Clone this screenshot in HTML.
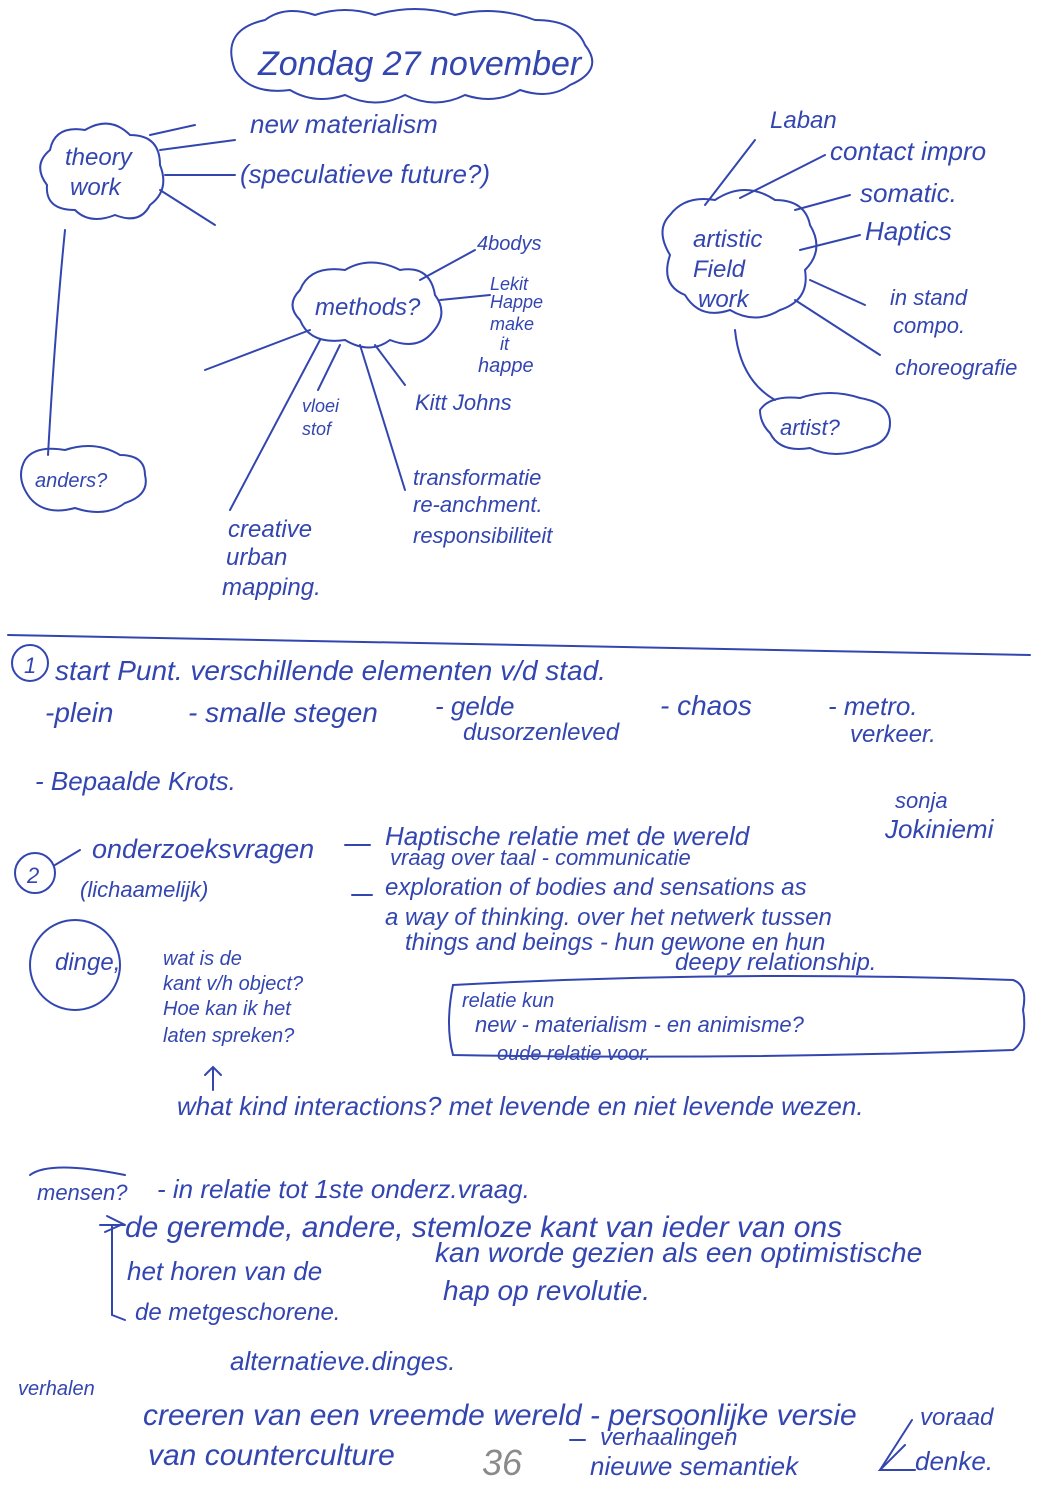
<!DOCTYPE html>
<html><head><meta charset="utf-8"><style>
html,body{margin:0;padding:0;background:#fff}
svg{display:block}
text{font-family:"Liberation Sans",sans-serif;font-style:italic;fill:#3346b0}
</style></head><body>
<svg width="1056" height="1492" viewBox="0 0 1056 1492" xmlns="http://www.w3.org/2000/svg">
<rect width="1056" height="1492" fill="#fff"/>
<g fill="none" stroke="#3346b0" stroke-width="2" stroke-linecap="round">
<!-- title cloud -->
<path d="M235,70 q-15,-40 30,-50 q20,-15 50,-5 q30,-10 60,0 q40,-12 80,0 q40,-10 80,5 q40,0 50,25 q20,25 -15,40 q-20,15 -50,5 q-25,15 -55,5 q-30,15 -60,0 q-30,15 -60,0 q-30,10 -55,-5 q-40,5 -55,-20 z"/>
<!-- theory work cloud -->
<path d="M50,150 q5,-25 35,-20 q25,-15 45,5 q30,0 30,30 q10,25 -10,40 q-10,20 -35,10 q-25,10 -40,-5 q-30,0 -28,-25 q-15,-20 3,-35 z"/>
<line x1="160" y1="150" x2="235" y2="140"/>
<line x1="165" y1="175" x2="235" y2="175"/>
<line x1="160" y1="190" x2="215" y2="225"/>
<line x1="150" y1="135" x2="195" y2="125"/>
<path d="M65,230 Q55,330 48,455"/>
<!-- anders cloud -->
<path d="M25,460 q10,-15 40,-10 q30,-10 55,5 q25,0 25,20 q5,20 -20,28 q-20,15 -50,5 q-30,8 -45,-10 q-15,-20 -5,-38 z"/>
<!-- methods cloud -->
<path d="M300,290 q10,-25 45,-20 q25,-15 55,0 q30,-5 35,25 q15,20 -5,40 q-15,15 -40,5 q-20,15 -45,0 q-35,5 -45,-20 q-15,-15 0,-30 z"/>
<line x1="420" y1="280" x2="475" y2="250"/>
<line x1="440" y1="300" x2="490" y2="295"/>
<line x1="310" y1="330" x2="205" y2="370"/>
<line x1="320" y1="340" x2="230" y2="510"/>
<line x1="340" y1="345" x2="318" y2="390"/>
<line x1="360" y1="345" x2="405" y2="490"/>
<line x1="375" y1="345" x2="405" y2="385"/>
<!-- artistic field work cloud -->
<path d="M670,215 q15,-20 45,-15 q30,-20 60,0 q30,0 35,25 q15,25 -5,45 q5,30 -25,40 q-25,15 -50,0 q-30,10 -45,-15 q-25,-10 -15,-40 q-15,-25 0,-40 z"/>
<line x1="705" y1="205" x2="755" y2="140"/>
<line x1="740" y1="198" x2="825" y2="155"/>
<line x1="795" y1="210" x2="850" y2="195"/>
<line x1="800" y1="250" x2="860" y2="235"/>
<line x1="810" y1="280" x2="865" y2="305"/>
<line x1="795" y1="300" x2="880" y2="355"/>
<path d="M735,330 Q740,380 775,400"/>
<path d="M760,410 q10,-15 40,-12 q30,-10 60,0 q30,5 30,25 q0,20 -25,25 q-30,12 -55,0 q-30,5 -40,-15 q-10,-10 -10,-23 z"/>
<!-- separator -->
<path d="M8,635 Q500,645 1030,655"/>
<circle cx="30" cy="663" r="18"/>
<circle cx="35" cy="873" r="20"/>
<line x1="55" y1="865" x2="80" y2="850"/>
<line x1="345" y1="845" x2="370" y2="845"/>
<line x1="352" y1="895" x2="372" y2="895"/>
<circle cx="75" cy="965" r="45"/>
<path d="M453,985 q280,-15 560,-5 q15,5 10,30 q5,30 -10,40 q-280,10 -560,5 q-8,-30 0,-70 z"/>
<line x1="213" y1="1090" x2="213" y2="1068"/>
<path d="M205,1075 l8,-8 l8,8"/>
<path d="M30,1175 q20,-15 95,0"/>
<path d="M105,1232 l18,-8 l-16,-8"/>
<path d="M112,1225 L112,1315 L125,1320"/>
<line x1="100" y1="1225" x2="125" y2="1225"/>
<line x1="570" y1="1440" x2="585" y2="1440"/>
<path d="M905,1445 L880,1470 L915,1470"/>
<line x1="880" y1="1470" x2="912" y2="1420"/>
</g>
<g font-size="26">
<text x="258" y="75" font-size="34">Zondag 27 november</text>
<text x="250" y="133">new materialism</text>
<text x="240" y="183">(speculatieve future?)</text>
<text x="65" y="165" font-size="24">theory</text>
<text x="70" y="195" font-size="24">work</text>
<text x="35" y="487" font-size="20">anders?</text>
<text x="315" y="315" font-size="24">methods?</text>
<text x="477" y="250" font-size="20">4bodys</text>
<text x="490" y="290" font-size="18">Lekit</text>
<text x="490" y="308" font-size="18">Happe</text>
<text x="490" y="330" font-size="18">make</text>
<text x="500" y="350" font-size="18">it</text>
<text x="478" y="372" font-size="20">happe</text>
<text x="302" y="412" font-size="18">vloei</text>
<text x="302" y="435" font-size="18">stof</text>
<text x="415" y="410" font-size="22">Kitt Johns</text>
<text x="413" y="485" font-size="22">transformatie</text>
<text x="413" y="512" font-size="22">re-anchment.</text>
<text x="413" y="543" font-size="22">responsibiliteit</text>
<text x="228" y="537" font-size="24">creative</text>
<text x="226" y="565" font-size="24">urban</text>
<text x="222" y="595" font-size="24">mapping.</text>
<text x="770" y="128" font-size="24">Laban</text>
<text x="830" y="160" font-size="26">contact impro</text>
<text x="860" y="202" font-size="26">somatic.</text>
<text x="865" y="240" font-size="26">Haptics</text>
<text x="693" y="247" font-size="24">artistic</text>
<text x="693" y="277" font-size="24">Field</text>
<text x="698" y="307" font-size="24">work</text>
<text x="890" y="305" font-size="22">in stand</text>
<text x="893" y="333" font-size="22">compo.</text>
<text x="895" y="375" font-size="22">choreografie</text>
<text x="780" y="435" font-size="22">artist?</text>
<text x="24" y="673" font-size="22">1</text>
<text x="55" y="680" font-size="28">start Punt. verschillende elementen v/d stad.</text>
<text x="45" y="722" font-size="28">-plein</text>
<text x="188" y="722" font-size="28">- smalle stegen</text>
<text x="435" y="715" font-size="26">- gelde</text>
<text x="463" y="740" font-size="24">dusorzenleved</text>
<text x="660" y="715" font-size="28">- chaos</text>
<text x="828" y="715" font-size="26">- metro.</text>
<text x="850" y="742" font-size="24">verkeer.</text>
<text x="35" y="790" font-size="26">- Bepaalde Krots.</text>
<text x="895" y="808" font-size="22">sonja</text>
<text x="885" y="838" font-size="26">Jokiniemi</text>
<text x="27" y="883" font-size="22">2</text>
<text x="92" y="858" font-size="27">onderzoeksvragen</text>
<text x="80" y="897" font-size="22">(lichaamelijk)</text>
<text x="385" y="845" font-size="26">Haptische relatie met de wereld</text>
<text x="390" y="865" font-size="22">vraag over taal - communicatie</text>
<text x="385" y="895" font-size="24">exploration of bodies and sensations as</text>
<text x="385" y="925" font-size="24">a way of thinking. over het netwerk tussen</text>
<text x="405" y="950" font-size="24">things and beings - hun gewone en hun</text>
<text x="675" y="970" font-size="24">deepy relationship.</text>
<text x="55" y="970" font-size="24">dinge,</text>
<text x="163" y="965" font-size="20">wat is de</text>
<text x="163" y="990" font-size="20">kant v/h object?</text>
<text x="163" y="1015" font-size="20">Hoe kan ik het</text>
<text x="163" y="1042" font-size="20">laten spreken?</text>
<text x="462" y="1007" font-size="20">relatie kun</text>
<text x="475" y="1032" font-size="22">new - materialism - en animisme?</text>
<text x="497" y="1060" font-size="20">oude relatie voor.</text>
<text x="177" y="1115" font-size="26">what kind interactions? met levende en niet levende wezen.</text>
<text x="37" y="1200" font-size="22">mensen?</text>
<text x="157" y="1198" font-size="26">- in relatie tot 1ste onderz.vraag.</text>
<text x="125" y="1237" font-size="30">de geremde, andere, stemloze kant van ieder van ons</text>
<text x="435" y="1262" font-size="28">kan worde gezien als een optimistische</text>
<text x="127" y="1280" font-size="26">het horen van de</text>
<text x="443" y="1300" font-size="28">hap op revolutie.</text>
<text x="135" y="1320" font-size="24">de metgeschorene.</text>
<text x="230" y="1370" font-size="26">alternatieve.dinges.</text>
<text x="18" y="1395" font-size="20">verhalen</text>
<text x="143" y="1425" font-size="30">creeren van een vreemde wereld - persoonlijke versie</text>
<text x="148" y="1465" font-size="30">van counterculture</text>
<text x="482" y="1475" font-size="36" fill="#888" style="fill:#8a8a8a">36</text>
<text x="600" y="1445" font-size="24">verhaalingen</text>
<text x="590" y="1475" font-size="26">nieuwe semantiek</text>
<text x="920" y="1425" font-size="24">voraad</text>
<text x="915" y="1470" font-size="26">denke.</text>
</g>
</svg>
</body></html>
